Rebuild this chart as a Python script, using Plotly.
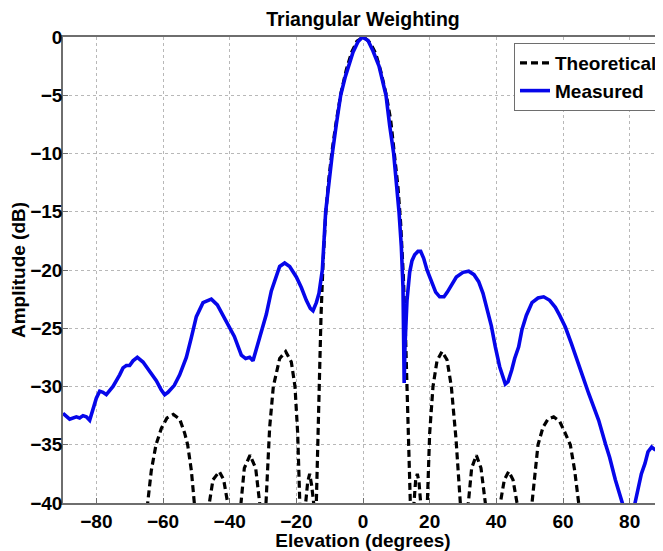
import plotly.graph_objects as go

# Theoretical (dashed) pattern
theo_x = [-66, -64.6, -63.5, -62.1, -60.5, -58.8, -56.9, -55.0, -53.5, -52.6, -51.5, -50.6,
          -48.5, -46.1, -45.0, -43.1, -41.8, -40.6, -38.5, -36.6, -35.6, -33.9, -32.2, -31.0,
          -30.0, -29.1, -28.0, -26.9, -25.0, -23.2, -21.5, -20.4, -19.6, -19.0, -18.2, -17.2,
          -16.6, -16.0, -15.4, -14.8, -14.4, -14.0, -13.3, -12.6, -12.0, -11.2, -10.3, -9.3,
          -8.0, -6.6, -5.0, -3.4, -1.8, 0.2, 2.2, 3.8, 5.3, 7.0, 8.3, 9.5, 10.5, 11.3, 12.1,
          12.8, 13.5, 14.3, 14.8, 15.3, 15.8, 16.3, 16.8, 17.3, 18.3, 19.3, 20.0, 21.0, 22.2,
          23.7, 25.2, 26.5, 27.9, 29.2, 30.4, 31.6, 32.6, 34.0, 35.4, 36.7, 39.0, 41.2, 42.4,
          43.7, 45.0, 46.2, 48.5, 50.7, 51.5, 52.5, 54.0, 55.5, 57.2, 59.0, 60.5, 62.2, 63.5,
          64.7, 66.0]
theo_y = [-48, -40, -37.2, -35, -33.6, -32.7, -32.4, -32.8, -34.0, -35.0, -37.2, -40,
          -50, -40, -38.0, -37.3, -38.0, -40, -50, -40, -37.0, -35.9, -37.0, -40,
          -48, -40, -33.5, -30, -27.6, -27.0, -27.9, -30, -34, -40, -47, -40,
          -38.2, -37.5, -38.5, -40, -45, -40, -31, -24, -19.5, -15.2, -12.3, -9.8,
          -7.2, -4.8, -2.8, -1.3, -0.35, 0, -0.5, -1.4, -2.9, -5.0, -7.1, -10.0, -12.9, -16.0, -20.5,
          -26, -33, -40, -46, -40, -38.0, -37.5, -38.2, -40, -47, -40, -34, -30, -27.8,
          -27.0, -27.7, -30, -34.5, -40, -48, -40, -37.0, -35.9, -37.0, -40, -50, -40, -38.0,
          -37.3, -38.0, -40, -50, -40, -37.5, -35, -33.5, -32.8, -32.6, -33.0, -33.9, -35, -37.2,
          -40, -48]

# Measured (solid blue) pattern
meas_x = [-90, -89, -88, -86, -85, -84, -83, -82, -81, -80, -79, -78, -77, -76, -75, -73, -72,
          -71, -70, -69, -67.7, -66, -65, -63.5, -62, -60.5, -59.5, -58.5, -56.6, -55, -53,
          -51.5, -50, -48, -45.5, -43.7, -42.5, -41, -38.6, -36.5, -35.2, -34, -33, -31, -29,
          -27.5, -26, -25, -23.5, -22, -20, -18.5, -17, -15.8, -15, -14, -13.2, -12.2, -11.2,
          -10.3, -9.2, -8, -6.7, -5.3, -4.2, -3, -1.5, -0.2, 1.5, 3, 4.8, 6, 6.9, 8, 9.2, 10.8,
          11.5, 12.0, 12.2, 12.35, 12.6, 13.2, 14, 14.7, 15.5, 16.5, 17.3, 18.2, 19.2, 20.5,
          21.8, 23, 24.3, 25.3, 26.3, 28, 30, 31.7, 33.3, 34.7, 36, 37.1, 38.5, 39.7, 41, 42.7,
          43.5, 44.6, 45.5, 46.7, 47.7, 49, 50.7, 52.5, 54.2, 56, 57.7, 59, 60.7, 62.5, 64.7,
          66, 67.7, 69, 70.7, 72.7, 74, 75.7, 77, 77.8, 79, 80.5, 81.6, 82.5, 83.5, 84.6, 85.5,
          86.6, 87.5, 88.6, 90]
meas_y = [-32.3, -32.6, -32.8, -32.6, -32.7, -32.5, -32.6, -32.9, -32.0, -31.0, -30.4, -30.5,
          -30.7, -30.4, -30.0, -29.0, -28.4, -28.2, -28.2, -27.8, -27.5, -27.9, -28.3, -28.8,
          -29.5, -30.3, -30.7, -30.5, -29.9, -29.0, -27.5, -25.8, -24.0, -22.8, -22.5, -23.0,
          -23.6, -24.4, -25.7, -27.3, -27.6, -27.5, -27.8, -25.8, -23.8, -21.8, -20.4, -19.7,
          -19.4, -19.7, -20.6, -21.5, -22.6, -23.3, -23.5, -22.8, -22.0, -20.0, -15.0, -12.5,
          -10.0, -7.5, -5.0, -3.4, -2.3, -1.3, -0.4, 0, -0.3, -1.2, -2.5, -3.8, -5.0, -7.6,
          -10.0, -15.0, -18.0, -21.5, -25.0, -29.7, -26.5, -22.6, -20.2, -19.2, -18.7, -18.4,
          -18.4, -19.0, -20.0, -21.0, -21.9, -22.3, -22.3, -21.9, -21.4, -20.6, -20.2, -20.1,
          -20.4, -21.0, -22.0, -23.2, -24.8, -26.6, -28.3, -29.8, -29.6, -28.6, -27.6, -26.6,
          -25.1, -23.9, -22.8, -22.4, -22.3, -22.6, -23.2, -23.9, -24.9, -26.3, -28.0, -29.2,
          -30.6, -31.7, -32.9, -34.9, -36.1, -38.0, -39.2, -40.0, -41.5, -41.5, -40.0, -38.7,
          -37.5, -36.6, -35.6, -35.2, -35.4, -35.5, -35.3]

x_ticks = [-80, -60, -40, -20, 0, 20, 40, 60, 80]
y_ticks = [0, -5, -10, -15, -20, -25, -30, -35, -40]

FONT = "Liberation Sans, Arial, sans-serif"
BOLD = dict(family=FONT, color="black", weight="bold")

fig = go.Figure()
fig.add_trace(go.Scatter(x=theo_x, y=theo_y, mode="lines", name="Theoretical",
                         line=dict(color="black", width=3.2, dash="7px,4px")))
fig.add_trace(go.Scatter(x=meas_x, y=meas_y, mode="lines", name="Measured",
                         line=dict(color="#0606ea", width=3.6)))

axis_common = dict(
    showline=True, linecolor="#6e6e6e", linewidth=1.5,
    ticks="inside", ticklen=5, tickcolor="#6e6e6e",
    showgrid=True, gridcolor="#b8b8b8", griddash="dot", gridwidth=1,
    zeroline=False, automargin=False,
    tickfont=dict(size=19, **BOLD),
)

fig.update_xaxes(range=[-90, 90], tickvals=x_ticks, mirror=True,
                 title=dict(text="Elevation (degrees)", standoff=0,
                            font=dict(size=19, **BOLD)),
                 **axis_common)
fig.update_yaxes(range=[-40, 0], tickvals=y_ticks, mirror=False,
                 ticklabelposition="outside", ticklabelstandoff=-5,
                 title=dict(text="Amplitude (dB)", standoff=6,
                            font=dict(size=19, **BOLD)),
                 **axis_common)

# page body has an 8px margin, so the figure is 8px smaller than the window
fig.update_layout(
    width=655, height=543,
    margin=dict(l=55, r=0, t=29, b=48, autoexpand=False),
    paper_bgcolor="white", plot_bgcolor="white",
    title=dict(text="Triangular Weighting", x=0.5, xref="paper", xanchor="center",
               y=1 - 11 / 543, yanchor="middle", yref="container",
               font=dict(size=19.5, **BOLD)),
    showlegend=True,
    legend=dict(x=1.0, xanchor="right", y=0.987, yanchor="top",
                bgcolor="white", bordercolor="#6e6e6e", borderwidth=1,
                font=dict(size=19, **BOLD),
                tracegroupgap=0, itemwidth=30),
)

fig.write_html("out.html")
